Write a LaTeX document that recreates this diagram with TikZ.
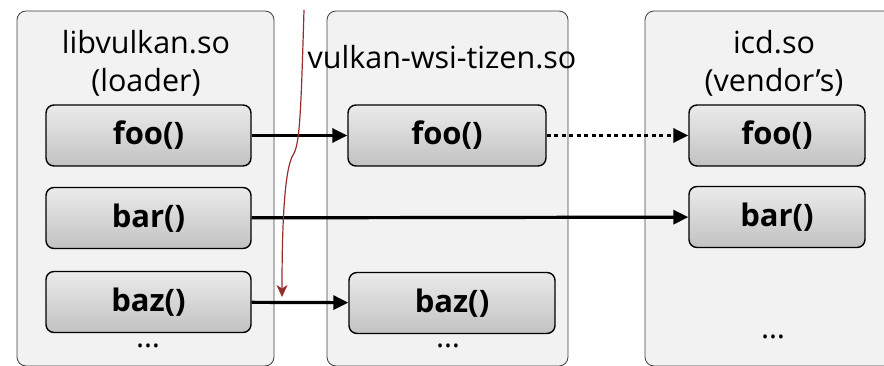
\documentclass[tikz,border=0pt]{standalone}
\usepackage{fontspec}
\setmainfont{Open Sans}
\usetikzlibrary{arrows.meta}
\definecolor{hopred}{RGB}{150,45,45}
\tikzset{
  panel/.style={draw=black!75, fill=black!5, line width=0.8pt, rounded corners=9pt},
  func/.style={draw, line width=1.4pt, rounded corners=8pt, top color=black!8, bottom color=black!24,
    minimum height=61pt, inner sep=0pt, font=\bfseries\fontsize{31}{34}\selectfont},
  title/.style={align=center, font=\fontsize{30.5}{38}\selectfont},
  call/.style={line width=3.2pt, -{Triangle[length=15pt,width=14pt]}},
  hop/.style={draw=hopred, line width=1.2pt, -{Stealth[length=12pt,width=11pt,inset=3.5pt]}}
}
\begin{document}
\begin{tikzpicture}[x=1pt,y=-1pt]
\useasboundingbox (0,0) rectangle (884,366);
%PANEL
\draw[panel] (17,11) rectangle (274,366);
\draw[panel] (327,11) rectangle (568,366);
\draw[panel] (645,11) rectangle (910,366);

%NODE
\node[title] (LT) at (146,63) {libvulkan.so\\(loader)};
\node[title] (WT) at (442,57) {vulkan-wsi-tizen.so};
\node[title] (IT) at (774,63) {icd.so\\(vendor’s)};

\node[func,minimum width=205pt] (LF) at (148.5,135.5) {foo()};
\node[func,minimum width=205pt] (LB) at (148.5,218) {bar()};
\node[func,minimum width=205pt] (LZ) at (148.5,302) {baz()};
\node[func,minimum width=198pt] (WF) at (447,135.5) {foo()};
\node[func,minimum width=206pt] (WZ) at (452,303) {baz()};
\node[func,minimum width=176pt] (IF) at (777,135.5) {foo()};
\node[func,minimum width=176pt] (IB) at (777,217) {bar()};

\node[title] (LD) at (148,346) {…};
\node[title] (WD) at (448,346) {…};
\node[title] (ID) at (773,337) {…};

%EDGE
\draw[call] (LF) -- (WF);
\draw[call, dash pattern=on 4pt off 3.5pt] (WF) -- (IF);
\draw[call] (LB) -- (IB);
\draw[call] (LZ) -- (WZ);

\coordinate (RS) at (304,10);
\coordinate (RE) at (282,297);
\draw[hop] (RS) .. controls (301,110) and (300,145) .. (293,155)
  .. controls (284,170) and (282,230) .. (RE);
\end{tikzpicture}
\end{document}
